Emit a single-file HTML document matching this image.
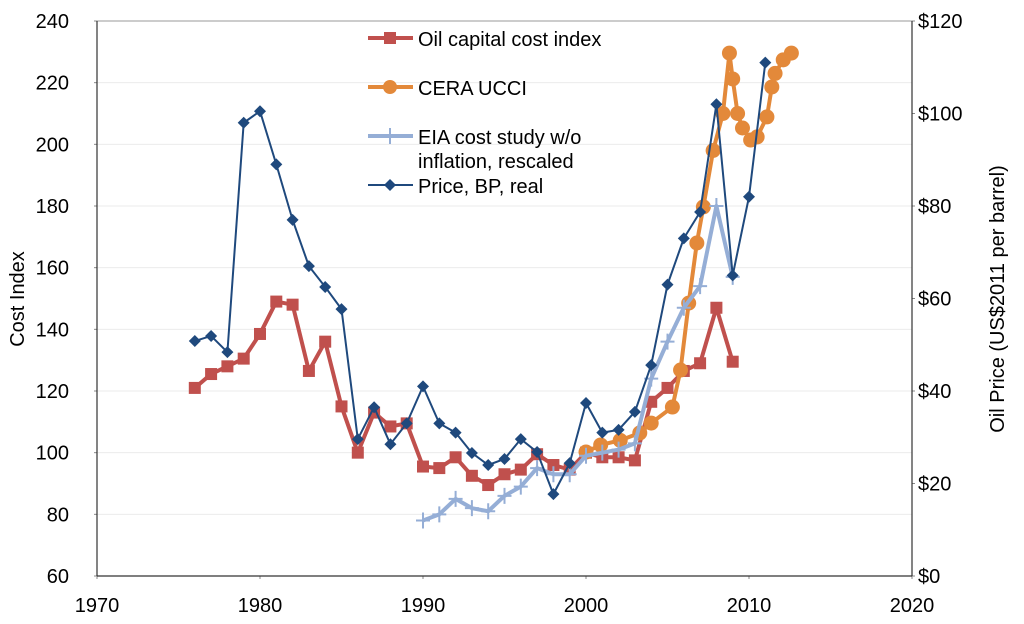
<!DOCTYPE html>
<html><head><meta charset="utf-8"><style>
html,body{margin:0;padding:0;background:#fff;}
svg{display:block;font-family:"Liberation Sans",Arial,sans-serif;}
</style></head><body>
<svg id="chart" width="1024" height="624" viewBox="0 0 1024 624">
<g id="grid"></g>
<g id="axes"></g>
<g id="series"></g>
<g id="legend">
  <g>
    <line x1="368" y1="38" x2="413" y2="38" stroke="#c0504d" stroke-width="4"/>
    <rect x="384" y="32" width="12" height="12" fill="#c0504d"/>
    <text x="418" y="46" font-size="20">Oil capital cost index</text>
  </g>
  <g>
    <line x1="368" y1="87" x2="413" y2="87" stroke="#e3893a" stroke-width="4"/>
    <circle cx="390" cy="87" r="7" fill="#e3893a"/>
    <text x="418" y="95" font-size="20">CERA UCCI</text>
  </g>
  <g>
    <line x1="368" y1="136" x2="413" y2="136" stroke="#95aed6" stroke-width="4"/>
    <line x1="390" y1="128" x2="390" y2="144" stroke="#95aed6" stroke-width="2"/>
    <text x="418" y="144" font-size="20">EIA cost study w/o</text>
    <text x="418" y="168" font-size="20">inflation, rescaled</text>
  </g>
  <g>
    <line x1="368" y1="185" x2="413" y2="185" stroke="#1f497d" stroke-width="2"/>
    <path d="M390 179 L396 185 L390 191 L384 185 Z" fill="#1f497d"/>
    <text x="418" y="193" font-size="20">Price, BP, real</text>
  </g>
</g>
</svg>
<script>
const xTicks = [1970,1980,1990,2000,2010,2020];
const yTicks = [60,80,100,120,140,160,180,200,220,240];
const y2Ticks = [0,20,40,60,80,100,120];
const y2Labels = ["$0","$20","$40","$60","$80","$100","$120"];

const oilYears = [1976,1977,1978,1979,1980,1981,1982,1983,1984,1985,1986,1987,1988,1989,1990,1991,1992,1993,1994,1995,1996,1997,1998,1999,2000,2001,2002,2003,2004,2005,2006,2007,2008,2009];
const oilValues = [121,125.5,128,130.5,138.5,149,148,126.5,136,115,100,113,108.5,109.5,95.5,95,98.5,92.5,89.5,93,94.5,99.5,96,94.5,100,98.5,98.5,97.5,116.5,121,126.5,129,147,129.5];

const priceYears = [1976,1977,1978,1979,1980,1981,1982,1983,1984,1985,1986,1987,1988,1989,1990,1991,1992,1993,1994,1995,1996,1997,1998,1999,2000,2001,2002,2003,2004,2005,2006,2007,2008,2009,2010,2011];
const priceValues = [50.8,51.9,48.4,98,100.5,89,77,67,62.5,57.7,29.6,36.5,28.5,33,41,33,31,26.6,24,25.3,29.6,26.8,17.7,24.4,37.4,31,31.6,35.5,45.6,63,73,78.7,102,65,82,111];

const eiaYears = [1990,1991,1992,1993,1994,1995,1996,1997,1998,1999,2000,2001,2002,2003,2004,2005,2006,2007,2008,2009];
const eiaValues = [78,80,85,82,81,86,89,95,93,93,99,100,101,103,124,136,147,154,180,157];

const ceraYears = [2000,2000.9,2002.1,2003.3,2004.0,2005.3,2005.8,2006.3,2006.8,2007.2,2007.8,2008.4,2008.8,2009.0,2009.3,2009.6,2010.1,2010.5,2011.1,2011.4,2011.6,2012.1,2012.6];
const ceraValues = [100.2,102.5,104,106.4,109.6,114.8,126.8,148.5,168,179.7,198,210,229.6,221.2,210,205.3,201.4,202.4,208.9,218.6,223,227.4,229.6];

const X0=97,X1=912,YT=21,YB=576;
const xs = v => X0 + (v-1970)/(2020-1970)*(X1-X0);
const ys = v => YB - (v-60)/(240-60)*(YB-YT);
const y2s = v => YB - v/120*(YB-YT);
const NS="http://www.w3.org/2000/svg";
function mk(tag, attrs, parent){const e=document.createElementNS(NS,tag);for(const k in attrs)e.setAttribute(k,attrs[k]);parent.appendChild(e);return e;}
const grid=document.getElementById('grid'), axes=document.getElementById('axes'), series=document.getElementById('series');

yTicks.forEach(t=>{
  if(t>60){const g=mk('line',{x1:X0,x2:X1,y1:ys(t),y2:ys(t),stroke:t===240?'#999':'#ebebeb','stroke-width':1},grid);
  
  }
  const tx=mk('text',{x:69,y:ys(t)+7,'font-size':20,'text-anchor':'end'},axes);tx.textContent=t;
  
  
  mk('line',{x1:X0-3,x2:X0,y1:ys(t),y2:ys(t),stroke:'#888'},axes);
});
y2Ticks.forEach((t,i)=>{
  const tx=mk('text',{x:918,y:y2s(t)+7,'font-size':20},axes);tx.textContent=y2Labels[i];
  
  
  mk('line',{x1:X1,x2:X1+3,y1:y2s(t),y2:y2s(t),stroke:'#888'},axes);
});
xTicks.forEach(t=>{
  const tx=mk('text',{x:xs(t),y:612,'font-size':20,'text-anchor':'middle'},axes);tx.textContent=t;
  
  
  mk('line',{x1:xs(t),x2:xs(t),y1:YB,y2:YB+3,stroke:'#888'},axes);
});
mk('line',{x1:X0,x2:X0,y1:YT,y2:YB,stroke:'#333','stroke-width':1.2},axes);
mk('line',{x1:X1,x2:X1,y1:YT,y2:YB,stroke:'#333','stroke-width':1.2},axes);
mk('line',{x1:X0,x2:X1,y1:YB,y2:YB,stroke:'#333','stroke-width':1.2},axes);
let t1=mk('text',{x:0,y:0,'font-size':20,'text-anchor':'middle',transform:'translate(24,299) rotate(-90)'},axes);t1.textContent='Cost Index';


let t2=mk('text',{x:0,y:0,'font-size':20,'text-anchor':'middle',transform:'translate(1004,299) rotate(-90)'},axes);t2.textContent='Oil Price (US$2011 per barrel)';



function line(xsArr, vals, yf, color, w, name){
  const p=mk('polyline',{points:xsArr.map((x,i)=>xs(x)+','+yf(vals[i])).join(' '),fill:'none',stroke:color,'stroke-width':w,'stroke-linejoin':'round'},series);
  
  
}
line(oilYears,oilValues,ys,'#c0504d',4,'oil-capital-cost-line');
oilYears.forEach((x,i)=>{const r=mk('rect',{x:xs(x)-6,y:ys(oilValues[i])-6,width:12,height:12,fill:'#c0504d'},series);
  
  });
line(ceraYears,ceraValues,ys,'#e3893a',4,'cera-ucci-line');
ceraYears.forEach((x,i)=>{const c=mk('circle',{cx:xs(x),cy:ys(ceraValues[i]),r:7.5,fill:'#e3893a'},series);
  
  });
line(eiaYears,eiaValues,ys,'#95aed6',4,'eia-cost-line');
eiaYears.forEach((x,i)=>{const l=mk('path',{d:`M${xs(x)-7} ${ys(eiaValues[i])} h14 M${xs(x)} ${ys(eiaValues[i])-8} v16`,stroke:'#95aed6','stroke-width':2},series);
  
  });
line(priceYears,priceValues,y2s,'#1f497d',2,'price-bp-line');
priceYears.forEach((x,i)=>{const cx=xs(x),cy=y2s(priceValues[i]);const d=mk('path',{d:`M${cx} ${cy-6} L${cx+6} ${cy} L${cx} ${cy+6} L${cx-6} ${cy} Z`,fill:'#1f497d'},series);
  
  });
</script>
</body></html>
